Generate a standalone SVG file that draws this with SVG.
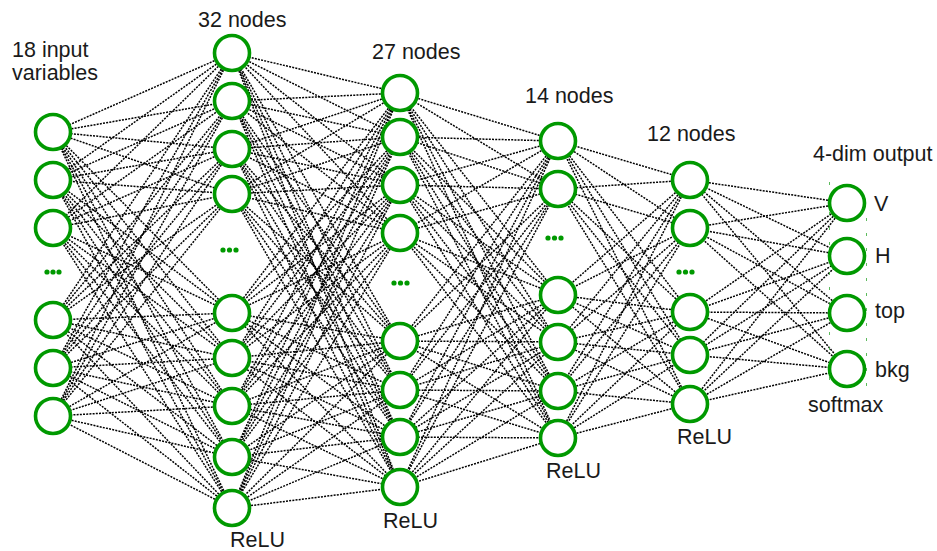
<svg xmlns="http://www.w3.org/2000/svg" width="937" height="551" viewBox="0 0 937 551">
<style>
.c{fill:none;stroke:#000;stroke-width:1.5;stroke-dasharray:2 1.2}
.n{fill:#fff;stroke:#009900;stroke-width:3.6}
.d{fill:#009900}
.t{font-family:"Liberation Sans",Arial,sans-serif;font-size:21.5px;fill:#1a1a1a}
.k{stroke:#33aa33;stroke-width:0.8;fill:none}
</style>
<rect width="937" height="551" fill="#fff"/>
<g id="connectors">
<path class="c" d="M232 53L53 132 232 101M232 149L53 132 232 194M232 313L53 132 232 358M232 406L53 132 232 457M232 508L53 132"/>
<path class="c" d="M232 53L53 180 232 101M232 149L53 180 232 194M232 313L53 180 232 358M232 406L53 180 232 457M232 508L53 180"/>
<path class="c" d="M232 53L53 228 232 101M232 149L53 228 232 194M232 313L53 228 232 358M232 406L53 228 232 457M232 508L53 228"/>
<path class="c" d="M232 53L53 320 232 101M232 149L53 320 232 194M232 313L53 320 232 358M232 406L53 320 232 457M232 508L53 320"/>
<path class="c" d="M232 53L53 368 232 101M232 149L53 368 232 194M232 313L53 368 232 358M232 406L53 368 232 457M232 508L53 368"/>
<path class="c" d="M232 53L53 416 232 101M232 149L53 416 232 194M232 313L53 416 232 358M232 406L53 416 232 457M232 508L53 416"/>
<path class="c" d="M400 93L232 53 400 137M400 185L232 53 400 233M400 341L232 53 400 390M400 437L232 53 400 487"/>
<path class="c" d="M400 93L232 101 400 137M400 185L232 101 400 233M400 341L232 101 400 390M400 437L232 101 400 487"/>
<path class="c" d="M400 93L232 149 400 137M400 185L232 149 400 233M400 341L232 149 400 390M400 437L232 149 400 487"/>
<path class="c" d="M400 93L232 194 400 137M400 185L232 194 400 233M400 341L232 194 400 390M400 437L232 194 400 487"/>
<path class="c" d="M400 93L232 313 400 137M400 185L232 313 400 233M400 341L232 313 400 390M400 437L232 313 400 487"/>
<path class="c" d="M400 93L232 358 400 137M400 185L232 358 400 233M400 341L232 358 400 390M400 437L232 358 400 487"/>
<path class="c" d="M400 93L232 406 400 137M400 185L232 406 400 233M400 341L232 406 400 390M400 437L232 406 400 487"/>
<path class="c" d="M400 93L232 457 400 137M400 185L232 457 400 233M400 341L232 457 400 390M400 437L232 457 400 487"/>
<path class="c" d="M400 93L232 508 400 137M400 185L232 508 400 233M400 341L232 508 400 390M400 437L232 508 400 487"/>
<path class="c" d="M558 141L400 93 558 189M558 295L400 93 558 342M558 391L400 93 558 438"/>
<path class="c" d="M558 141L400 137 558 189M558 295L400 137 558 342M558 391L400 137 558 438"/>
<path class="c" d="M558 141L400 185 558 189M558 295L400 185 558 342M558 391L400 185 558 438"/>
<path class="c" d="M558 141L400 233 558 189M558 295L400 233 558 342M558 391L400 233 558 438"/>
<path class="c" d="M558 141L400 341 558 189M558 295L400 341 558 342M558 391L400 341 558 438"/>
<path class="c" d="M558 141L400 390 558 189M558 295L400 390 558 342M558 391L400 390 558 438"/>
<path class="c" d="M558 141L400 437 558 189M558 295L400 437 558 342M558 391L400 437 558 438"/>
<path class="c" d="M558 141L400 487 558 189M558 295L400 487 558 342M558 391L400 487 558 438"/>
<path class="c" d="M690 180L558 141 690 228M690 312L558 141 690 355M690 404L558 141"/>
<path class="c" d="M690 180L558 189 690 228M690 312L558 189 690 355M690 404L558 189"/>
<path class="c" d="M690 180L558 295 690 228M690 312L558 295 690 355M690 404L558 295"/>
<path class="c" d="M690 180L558 342 690 228M690 312L558 342 690 355M690 404L558 342"/>
<path class="c" d="M690 180L558 391 690 228M690 312L558 391 690 355M690 404L558 391"/>
<path class="c" d="M690 180L558 438 690 228M690 312L558 438 690 355M690 404L558 438"/>
<path class="c" d="M847 203L690 180 847 256M847 313L690 180 847 369"/>
<path class="c" d="M847 203L690 228 847 256M847 313L690 228 847 369"/>
<path class="c" d="M847 203L690 312 847 256M847 313L690 312 847 369"/>
<path class="c" d="M847 203L690 355 847 256M847 313L690 355 847 369"/>
<path class="c" d="M847 203L690 404 847 256M847 313L690 404 847 369"/>
</g>
<g id="input-layer">
<g id="in1"><circle class="n" cx="53" cy="132" r="17.5"/></g>
<g id="in2"><circle class="n" cx="53" cy="180" r="17.5"/></g>
<g id="in3"><circle class="n" cx="53" cy="228" r="17.5"/></g>
<g id="in-dots"><circle class="d" cx="47" cy="272" r="2.6"/><circle class="d" cx="53" cy="272" r="2.6"/><circle class="d" cx="59" cy="272" r="2.6"/></g>
<g id="in4"><circle class="n" cx="53" cy="320" r="17.5"/></g>
<g id="in5"><circle class="n" cx="53" cy="368" r="17.5"/></g>
<g id="in6"><circle class="n" cx="53" cy="416" r="17.5"/></g>
</g>
<g id="hidden1">
<g id="h1_1"><circle class="n" cx="232" cy="53" r="17.5"/></g>
<g id="h1_2"><circle class="n" cx="232" cy="101" r="17.5"/></g>
<g id="h1_3"><circle class="n" cx="232" cy="149" r="17.5"/></g>
<g id="h1_4"><circle class="n" cx="232" cy="194" r="17.5"/></g>
<g id="h1-dots"><circle class="d" cx="223" cy="250" r="2.6"/><circle class="d" cx="229.5" cy="250" r="2.6"/><circle class="d" cx="236" cy="250" r="2.6"/></g>
<g id="h1_5"><circle class="n" cx="232" cy="313" r="17.5"/></g>
<g id="h1_6"><circle class="n" cx="232" cy="358" r="17.5"/></g>
<g id="h1_7"><circle class="n" cx="232" cy="406" r="17.5"/></g>
<g id="h1_8"><circle class="n" cx="232" cy="457" r="17.5"/></g>
<g id="h1_9"><circle class="n" cx="232" cy="508" r="17.5"/></g>
</g>
<g id="hidden2">
<g id="h2_1"><circle class="n" cx="400" cy="93" r="17.5"/></g>
<g id="h2_2"><circle class="n" cx="400" cy="137" r="17.5"/></g>
<g id="h2_3"><circle class="n" cx="400" cy="185" r="17.5"/></g>
<g id="h2_4"><circle class="n" cx="400" cy="233" r="17.5"/></g>
<g id="h2-dots"><circle class="d" cx="394" cy="283" r="2.6"/><circle class="d" cx="400.5" cy="283" r="2.6"/><circle class="d" cx="407" cy="283" r="2.6"/></g>
<g id="h2_5"><circle class="n" cx="400" cy="341" r="17.5"/></g>
<g id="h2_6"><circle class="n" cx="400" cy="390" r="17.5"/></g>
<g id="h2_7"><circle class="n" cx="400" cy="437" r="17.5"/></g>
<g id="h2_8"><circle class="n" cx="400" cy="487" r="17.5"/></g>
</g>
<g id="hidden3">
<g id="h3_1"><circle class="n" cx="558" cy="141" r="17.5"/></g>
<g id="h3_2"><circle class="n" cx="558" cy="189" r="17.5"/></g>
<g id="h3-dots"><circle class="d" cx="548" cy="238" r="2.6"/><circle class="d" cx="554.5" cy="238" r="2.6"/><circle class="d" cx="561" cy="238" r="2.6"/></g>
<g id="h3_3"><circle class="n" cx="558" cy="295" r="17.5"/></g>
<g id="h3_4"><circle class="n" cx="558" cy="342" r="17.5"/></g>
<g id="h3_5"><circle class="n" cx="558" cy="391" r="17.5"/></g>
<g id="h3_6"><circle class="n" cx="558" cy="438" r="17.5"/></g>
</g>
<g id="hidden4">
<g id="h4_1"><circle class="n" cx="690" cy="180" r="17.5"/></g>
<g id="h4_2"><circle class="n" cx="690" cy="228" r="17.5"/></g>
<g id="h4-dots"><circle class="d" cx="679" cy="272" r="2.6"/><circle class="d" cx="685.5" cy="272" r="2.6"/><circle class="d" cx="692" cy="272" r="2.6"/></g>
<g id="h4_3"><circle class="n" cx="690" cy="312" r="17.5"/></g>
<g id="h4_4"><circle class="n" cx="690" cy="355" r="17.5"/></g>
<g id="h4_5"><circle class="n" cx="690" cy="404" r="17.5"/></g>
</g>
<g id="output-layer">
<path class="k" d="M829.5 182V390M866.5 218V392" stroke-dasharray="3 12"/>
<g id="out_V"><circle class="n" cx="847" cy="203" r="17.5"/><text class="t" x="874" y="211">V</text></g>
<g id="out_H"><circle class="n" cx="847" cy="256" r="17.5"/><text class="t" x="875" y="263">H</text></g>
<g id="out_top"><circle class="n" cx="847" cy="313" r="17.5"/><text class="t" x="875" y="318">top</text></g>
<g id="out_bkg"><circle class="n" cx="847" cy="369" r="17.5"/><text class="t" x="875" y="377">bkg</text></g>
</g>
<g id="labels">
<text class="t" x="12" y="57">18 input</text>
<text class="t" x="12" y="80">variables</text>
<text class="t" x="198" y="27">32 nodes</text>
<text class="t" x="372" y="59">27 nodes</text>
<text class="t" x="525" y="103">14 nodes</text>
<text class="t" x="647" y="141">12 nodes</text>
<text class="t" x="813" y="161">4-dim output</text>
<text class="t" x="230" y="547">ReLU</text>
<text class="t" x="383" y="528">ReLU</text>
<text class="t" x="546" y="478">ReLU</text>
<text class="t" x="677" y="444">ReLU</text>
<text class="t" x="808" y="412">softmax</text>
</g>
</svg>
